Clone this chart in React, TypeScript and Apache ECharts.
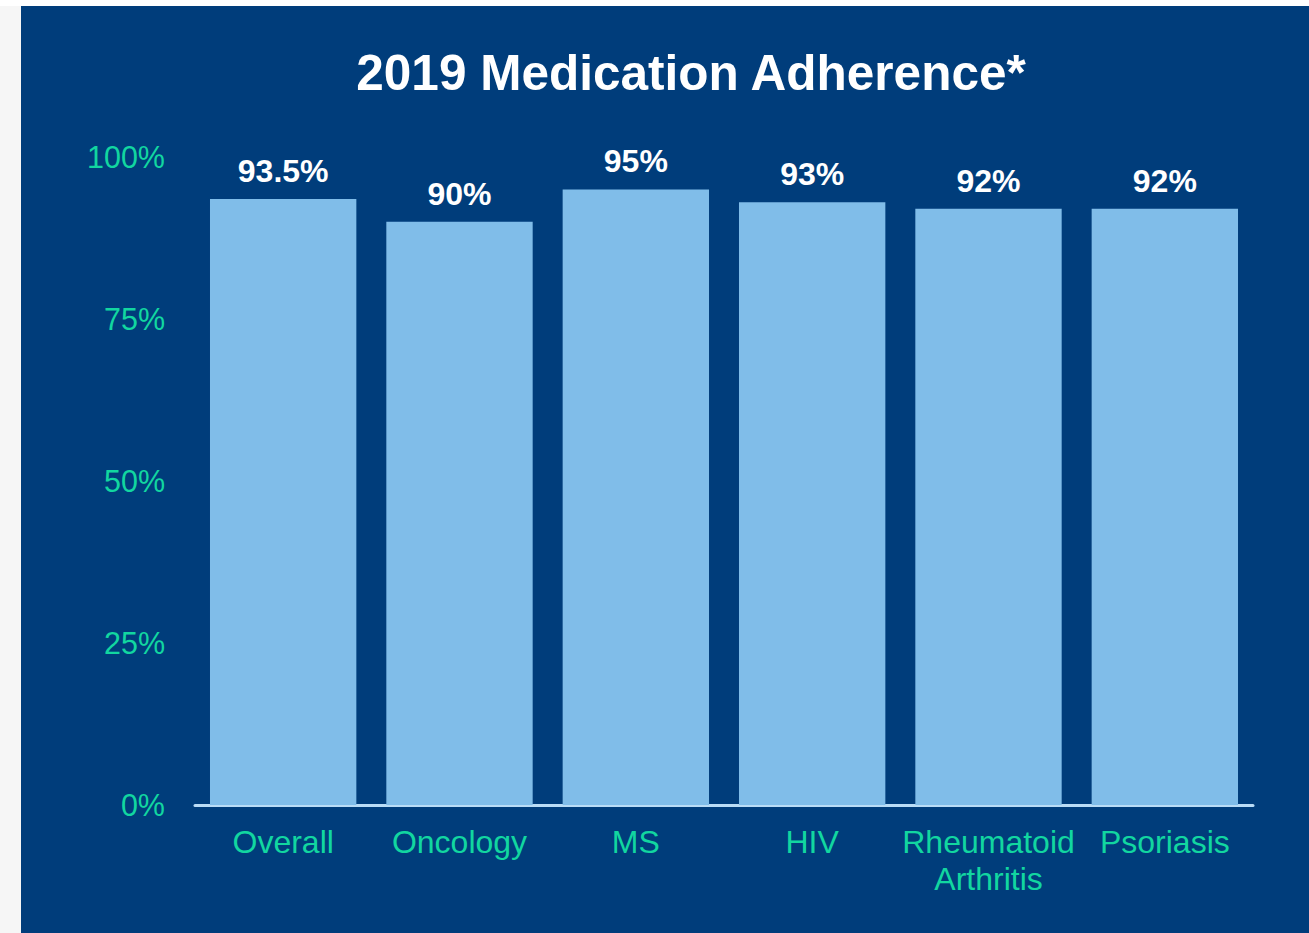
import React, { useEffect, useRef } from "react";
import * as echarts from "echarts";

const categories = ["Overall", "Oncology", "MS", "HIV", "Rheumatoid\nArthritis", "Psoriasis"];
const adherence = [93.5, 90, 95, 93, 92, 92];
const yTicks = [0, 25, 50, 75, 100];
const titleText = "2019 Medication Adherence*";

const FONT = "'Liberation Sans', Arial, Helvetica, sans-serif";
const TEAL = "#12d6a0";

export default function App() {
  const ref = useRef<HTMLDivElement>(null);
  useEffect(() => {
    document.body.style.margin = "0";
    const chart = echarts.init(ref.current!, null, { renderer: "svg" });
    chart.setOption({
      animation: false,
      backgroundColor: "#ffffff",
      textStyle: { fontFamily: FONT },
      graphic: [
        { type: "rect", z: -10, shape: { x: 0, y: 6, width: 21, height: 927 }, style: { fill: "#f6f6f6" } },
        { type: "rect", z: -10, shape: { x: 21, y: 6, width: 1288, height: 927 }, style: { fill: "#003d7b" } },
        {
          type: "text",
          x: 691,
          y: 72,
          style: {
            text: titleText,
            fill: "#ffffff",
            font: `bold 49.5px ${FONT}`,
            textAlign: "center",
            textVerticalAlign: "middle",
          },
        },
      ],
      grid: { left: 195, right: 56, top: 157, bottom: 128 },
      xAxis: {
        type: "category",
        data: categories,
        axisLine: { show: true, lineStyle: { color: "#b9dcf6", width: 3 } },
        axisTick: { show: false },
        axisLabel: {
          color: TEAL,
          fontSize: 32,
          fontFamily: FONT,
          margin: 18,
          lineHeight: 37,
          interval: 0,
        },
      },
      yAxis: {
        type: "value",
        min: yTicks[0],
        max: yTicks[yTicks.length - 1],
        interval: 25,
        splitLine: { show: false },
        axisLine: { show: false },
        axisTick: { show: false },
        axisLabel: {
          color: TEAL,
          fontSize: 30.5,
          fontFamily: FONT,
          margin: 30,
          formatter: "{value}%",
        },
      },
      series: [
        {
          type: "bar",
          data: adherence,
          barCategoryGap: "17%",
          itemStyle: { color: "#80bde9" },
          label: {
            show: true,
            position: "top",
            distance: 12,
            color: "#ffffff",
            fontWeight: "bold",
            fontSize: 32,
            fontFamily: FONT,
            formatter: (p: any) => `${p.value}%`,
          },
        },
      ],
    });
    return () => chart.dispose();
  }, []);
  return <div ref={ref} style={{ width: 1309, height: 933 }} />;
}
